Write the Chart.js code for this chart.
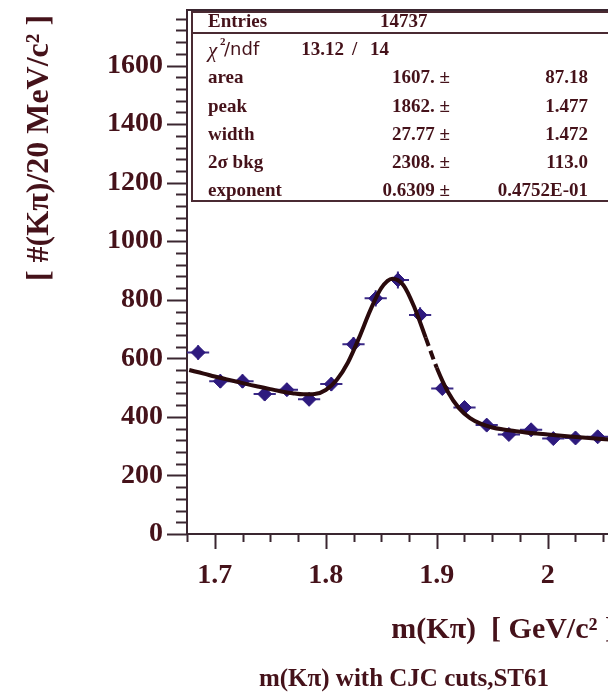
<!DOCTYPE html>
<html><head><meta charset="utf-8">
<script src="https://cdn.jsdelivr.net/npm/chart.js@4/dist/chart.umd.min.js"></script>
<style>
html,body{margin:0;padding:0;background:#fff;overflow:hidden;width:608px;height:696px}
#wrap{position:absolute;left:0;top:0;width:640px;height:696px}
</style></head>
<body><div id="wrap"><canvas id="c"></canvas></div>
<script>
// ---- data ----
const binCenters = [1.685,1.705,1.725,1.745,1.765,1.785,1.805,1.825,1.845,1.865,1.885,1.905,1.925,1.945,1.965,1.985,2.005,2.025,2.045];
const counts     = [620,522,522,478,493,460,512,648,805,868,748,497,432,372,340,356,326,328,332];
const countErrs  = [25,23,23,22,22,21,23,25,28,29,27,22,21,19,18,19,18,18,18];
const binHalfWidth = 0.01;
const fitX = [1.677,1.69,1.70,1.71,1.72,1.73,1.74,1.75,1.76,1.77,1.78,1.79,1.80,1.81,1.82,1.83,1.84,1.85,1.86,1.87,1.88,1.89,1.90,1.91,1.92,1.93,1.94,1.95,1.96,1.97,1.98,1.99,2.00,2.02,2.04,2.06,2.075];
const fitY = [560,548,538,529,520,511,503,495,487,481,477,478,492,527,586,670,763,840,872,850,773,671,568,486,430,396,376,364,357,352,347,343,340,333,327,322,318];
const yMajorTicks = [0,200,400,600,800,1000,1200,1400,1600];
const yMinorStep = 40;
const xMajorTicks = [1.7,1.8,1.9,2.0];
const xTickLabels = ['1.7','1.8','1.9','2'];
const xMinorStep = 0.025;
const statsLabels = ['area','peak','width','2\u03C3 bkg','exponent'];
const statsValues = ['1607. \u00B1','1862. \u00B1','27.77 \u00B1','2308. \u00B1','0.6309 \u00B1'];
const statsErrors = ['87.18','1.477','1.472','113.0','0.4752E-01'];
const entries = '14737';
const chi2 = '13.12', ndf = '14';

const TXT = '#45121a';
const AX = '#3a2630';
const PT = '#2e1a7e';
const SERIF = '"Liberation Serif", "DejaVu Serif", serif';

const X_MIN = 1.675, X_MAX = 2.075, Y_MIN = 0, Y_MAX = 1790;

const decor = {
  id: 'decor',
  beforeDatasetsDraw(chart) {
    const {ctx, scales:{x, y}} = chart;
    ctx.save();
    ctx.strokeStyle = '#3b2a86';
    ctx.lineWidth = 2;
    binCenters.forEach((c, i) => {
      const px = x.getPixelForValue(c), py = y.getPixelForValue(counts[i]);
      ctx.beginPath();
      ctx.moveTo(x.getPixelForValue(c - binHalfWidth), py);
      ctx.lineTo(x.getPixelForValue(c + binHalfWidth), py);
      ctx.moveTo(px, y.getPixelForValue(counts[i] - countErrs[i]));
      ctx.lineTo(px, y.getPixelForValue(counts[i] + countErrs[i]));
      ctx.stroke();
    });
    ctx.restore();
  },
  afterDraw(chart) {
    const {ctx, chartArea:a, scales:{x, y}} = chart;
    ctx.save();
    ctx.strokeStyle = AX; ctx.lineWidth = 2;
    ctx.beginPath(); ctx.moveTo(a.left, a.top); ctx.lineTo(a.right, a.top); ctx.stroke();
    for (let v = Y_MIN; v <= Y_MAX; v += yMinorStep) {
      const major = yMajorTicks.includes(v);
      const py = Math.round(y.getPixelForValue(v)) + 0.5;
      ctx.beginPath(); ctx.moveTo(a.left - (major ? 20 : 11), py); ctx.lineTo(a.left, py); ctx.stroke();
    }
    for (let k = 0; X_MIN + k * xMinorStep <= X_MAX + 1e-9; k++) {
      const v = X_MIN + k * xMinorStep;
      const major = xMajorTicks.some(t => Math.abs(t - v) < 1e-6);
      const px = Math.round(x.getPixelForValue(v)) + 0.5;
      ctx.beginPath(); ctx.moveTo(px, a.bottom); ctx.lineTo(px, a.bottom + (major ? 15 : 8)); ctx.stroke();
    }
    // stats box
    const bx = a.left + 5, by = a.top + 2, bb = 201;
    ctx.fillStyle = '#fff';
    ctx.fillRect(bx, by, 700, bb - by);
    ctx.strokeStyle = '#4a2a32'; ctx.lineWidth = 2;
    ctx.strokeRect(bx, by, 700, bb - by);
    ctx.beginPath(); ctx.moveTo(bx, 33); ctx.lineTo(bx + 700, 33); ctx.stroke();
    ctx.fillStyle = TXT;
    ctx.textBaseline = 'middle';
    ctx.font = 'bold 19px ' + SERIF;
    ctx.textAlign = 'left';
    ctx.fillText('Entries', 208, 22);
    ctx.fillText(entries, 380, 22);
    ctx.font = 'italic 21px ' + SERIF;
    ctx.fillText('\u03C7', 208, 51);
    ctx.font = 'bold 11px ' + SERIF;
    ctx.fillText('2', 220, 42);
    ctx.font = '18px "DejaVu Sans", sans-serif';
    ctx.fillText('/ndf', 224, 50);
    ctx.font = 'bold 19px ' + SERIF;
    ctx.textAlign = 'right'; ctx.fillText(chi2, 344, 50);
    ctx.textAlign = 'left'; ctx.fillText('/', 352, 50); ctx.fillText(ndf, 370, 50);
    const rowY = [78, 107, 135, 163, 191];
    statsLabels.forEach((l, i) => {
      ctx.textAlign = 'left'; ctx.fillText(l, 208, rowY[i]);
      ctx.textAlign = 'right'; ctx.fillText(statsValues[i], 450, rowY[i]);
      ctx.fillText(statsErrors[i], 588, rowY[i]);
    });
    // axis titles
    ctx.font = 'bold 30px ' + SERIF;
    ctx.textAlign = 'right';
    ctx.fillText('m(K\u03C0)  [ GeV/c\u00B2 ]', 615, 630);
    ctx.font = 'bold 25px ' + SERIF;
    ctx.textAlign = 'center';
    ctx.fillText('m(K\u03C0) with CJC cuts,ST61', 404, 680);
    ctx.font = 'bold 32px ' + SERIF;
    ctx.translate(40, 148); ctx.rotate(-Math.PI / 2);
    ctx.fillText('[ #(K\u03C0)/20 MeV/c\u00B2 ]', 0, 0);
    ctx.restore();
  }
};

new Chart(document.getElementById('c'), {
  data: {
    datasets: [
      {
        type: 'line', label: 'fit', order: 0,
        data: fitX.map((v, i) => ({x: v, y: fitY[i]})),
        borderColor: '#2a0a0c', borderWidth: 4, pointRadius: 0,
        cubicInterpolationMode: 'monotone', fill: false,
        segment: { borderDash: c => (c.p0.parsed.x >= 1.889 && c.p1.parsed.x <= 1.901) ? [9, 5] : undefined }
      },
      {
        type: 'scatter', label: 'data', order: 1,
        data: binCenters.map((v, i) => ({x: v, y: counts[i]})),
        pointStyle: 'rectRot', pointRadius: 7,
        backgroundColor: PT, borderColor: PT, borderWidth: 1
      }
    ]
  },
  options: {
    responsive: true, maintainAspectRatio: false, animation: false, devicePixelRatio: 1,
    layout: { padding: { left: 0, top: 10, right: 9, bottom: 0 } },
    plugins: { legend: { display: false }, tooltip: { enabled: false } },
    scales: {
      x: {
        type: 'linear', min: X_MIN, max: X_MAX,
        afterBuildTicks: s => { s.ticks = xMajorTicks.map(v => ({value: v})); },
        afterFit: s => { s.height = 162; s.paddingLeft = 0; s.paddingRight = 0; s.paddingTop = 0; s.paddingBottom = 0; },
        grid: { display: false, drawTicks: false },
        border: { display: true, color: AX, width: 2 },
        ticks: {
          padding: 25, color: TXT, font: { family: SERIF, size: 28, weight: 'bold' },
          maxRotation: 0, autoSkip: false,
          callback: v => xTickLabels[xMajorTicks.findIndex(t => Math.abs(t - v) < 1e-6)]
        }
      },
      y: {
        type: 'linear', min: Y_MIN, max: Y_MAX,
        afterBuildTicks: s => { s.ticks = yMajorTicks.map(v => ({value: v})); },
        afterFit: s => { s.width = 187; s.paddingLeft = 0; s.paddingRight = 0; s.paddingTop = 0; s.paddingBottom = 0; },
        grid: { display: false, drawTicks: false },
        border: { display: true, color: AX, width: 2 },
        ticks: {
          padding: 24, color: TXT, font: { family: SERIF, size: 28, weight: 'bold' },
          autoSkip: false, callback: v => String(v)
        }
      }
    }
  },
  plugins: [decor]
});
</script>
</body></html>
